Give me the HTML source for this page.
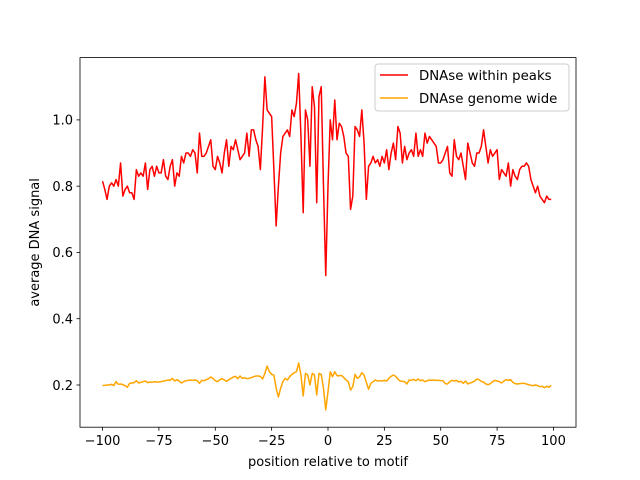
<!DOCTYPE html>
<html><head><meta charset="utf-8"><style>
body{margin:0;background:#fff}
svg{display:block;font-family:"DejaVu Sans","Liberation Sans",sans-serif}
</style></head><body>
<svg id="chart" width="640" height="480" viewBox="0 0 640 480" xmlns="http://www.w3.org/2000/svg">
<rect width="640" height="480" fill="#fff"/>
<g id="plot"></g>
<rect x="80" y="57.6" width="496" height="369.6" fill="none" stroke="#000" stroke-width="0.8"/>
<g id="xticks"></g>
<g id="yticks"></g>
<text x="328" y="466" font-size="13" text-anchor="middle">position relative to motif</text>
<text transform="translate(39,242.4) rotate(-90)" font-size="13" text-anchor="middle">average DNA signal</text>
<g>
<rect x="375" y="64" width="194" height="47" rx="3" fill="#fff" fill-opacity="0.8" stroke="#ccc" stroke-width="1"/>
<line x1="380" y1="75" x2="408" y2="75" stroke="red" stroke-width="1.5"/>
<text x="419" y="80" font-size="13.3">DNAse within peaks</text>
<line x1="380" y1="98" x2="408" y2="98" stroke="orange" stroke-width="1.5"/>
<text x="419" y="103" font-size="13.3">DNAse genome wide</text>
</g>
</svg>
<script>
const xStart = -100;
const peaks = [
0.815,0.79,0.76,0.80,0.81,0.80,0.82,0.80,0.87,0.77,
0.79,0.80,0.78,0.78,0.76,0.85,0.83,0.84,0.83,0.87,
0.79,0.85,0.86,0.83,0.86,0.84,0.84,0.88,0.83,0.82,
0.86,0.88,0.80,0.84,0.83,0.89,0.87,0.90,0.90,0.89,
0.91,0.90,0.84,0.96,0.89,0.89,0.90,0.92,0.94,0.86,
0.85,0.89,0.87,0.84,0.90,0.94,0.86,0.92,0.91,0.94,
0.91,0.88,0.89,0.90,0.96,0.89,0.97,0.97,0.94,0.92,
0.85,0.98,1.13,1.03,1.02,1.01,0.85,0.68,0.80,0.90,
0.95,0.96,0.97,0.95,1.03,1.01,1.05,1.14,0.95,0.72,
1.03,1.00,0.86,1.10,1.04,0.75,1.07,1.10,0.80,0.53,
0.80,1.00,0.94,1.06,0.94,0.99,0.98,0.95,0.90,0.89,
0.73,0.77,0.98,0.97,0.95,1.03,0.93,0.76,0.86,0.87,
0.89,0.87,0.88,0.86,0.89,0.87,0.91,0.85,0.90,0.93,
0.88,0.98,0.96,0.87,0.92,0.88,0.90,0.91,0.89,0.96,
0.89,0.91,0.89,0.96,0.93,0.95,0.94,0.93,0.92,0.87,
0.87,0.88,0.90,0.92,0.84,0.83,0.94,0.89,0.88,0.90,
0.86,0.82,0.93,0.90,0.87,0.86,0.90,0.90,0.92,0.97,
0.92,0.87,0.91,0.89,0.90,0.91,0.82,0.85,0.84,0.83,
0.87,0.80,0.85,0.83,0.82,0.85,0.86,0.86,0.87,0.86,
0.82,0.80,0.78,0.80,0.77,0.76,0.75,0.77,0.76,0.76];
const genome = [
0.198,0.199,0.200,0.200,0.202,0.198,0.210,0.202,0.203,0.201,
0.198,0.193,0.205,0.206,0.207,0.213,0.206,0.208,0.210,0.212,
0.207,0.209,0.208,0.210,0.209,0.209,0.210,0.212,0.213,0.215,
0.214,0.220,0.212,0.216,0.212,0.206,0.210,0.213,0.214,0.215,
0.214,0.215,0.213,0.205,0.214,0.213,0.216,0.219,0.224,0.220,
0.213,0.210,0.216,0.219,0.215,0.211,0.216,0.220,0.224,0.226,
0.219,0.227,0.220,0.222,0.219,0.220,0.222,0.225,0.227,0.227,
0.226,0.218,0.235,0.257,0.240,0.232,0.230,0.190,0.164,0.190,
0.210,0.220,0.215,0.225,0.232,0.237,0.240,0.266,0.230,0.167,
0.235,0.230,0.200,0.235,0.230,0.170,0.235,0.232,0.190,0.125,
0.180,0.240,0.225,0.240,0.228,0.228,0.229,0.222,0.215,0.210,
0.185,0.195,0.232,0.220,0.225,0.237,0.230,0.208,0.187,0.205,
0.210,0.215,0.212,0.213,0.212,0.214,0.212,0.220,0.226,0.230,
0.226,0.218,0.212,0.211,0.210,0.203,0.215,0.214,0.217,0.213,
0.218,0.213,0.215,0.210,0.213,0.215,0.214,0.215,0.214,0.214,
0.213,0.213,0.204,0.203,0.210,0.214,0.212,0.214,0.209,0.211,
0.205,0.212,0.203,0.206,0.208,0.212,0.218,0.216,0.211,0.209,
0.203,0.201,0.204,0.210,0.214,0.212,0.210,0.206,0.212,0.216,
0.214,0.216,0.208,0.204,0.203,0.204,0.205,0.205,0.203,0.201,
0.199,0.198,0.200,0.198,0.195,0.196,0.192,0.196,0.193,0.199];
const xTicks = [-100,-75,-50,-25,0,25,50,75,100];
const yTicks = [0.2,0.4,0.6,0.8,1.0];
const yTickLabels = ["0.2","0.4","0.6","0.8","1.0"];

const NS = "http://www.w3.org/2000/svg";
const L=80,R=576,T=57.6,B=427.2;
const xMin=-110,xMax=110,yMin=0.0726,yMax=1.188;
const sx = v => L + (v-xMin)/(xMax-xMin)*(R-L);
const sy = v => B - (v-yMin)/(yMax-yMin)*(B-T);
function mk(tag, attrs, parent){const e=document.createElementNS(NS,tag);for(const k in attrs)e.setAttribute(k,attrs[k]);parent.appendChild(e);return e;}

const plot=document.getElementById('plot');
function line(vals,color,name){
  const pts=vals.map((v,i)=>sx(xStart+i).toFixed(2)+","+sy(v).toFixed(2)).join(" ");
  const p=mk('polyline',{points:pts,fill:'none',stroke:color,'stroke-width':1.5,'stroke-linejoin':'round'},plot);
  
  
}
line(peaks,'red','series-within-peaks');
line(genome,'orange','series-genome-wide');

const xg=document.getElementById('xticks');
xTicks.forEach(t=>{
  const x=sx(t);
  const l=mk('line',{x1:x,x2:x,y1:B,y2:B+3.5,stroke:'#000','stroke-width':0.8},xg);
  
  
  const tx=mk('text',{x:x,y:B+18,'font-size':13,'text-anchor':'middle'},xg);
  tx.textContent=(t<0?"\u2212"+(-t):String(t));
  
  
});
const yg=document.getElementById('yticks');
yTicks.forEach((t,i)=>{
  const y=sy(t);
  const l=mk('line',{x1:L-3.5,x2:L,y1:y,y2:y,stroke:'#000','stroke-width':0.8},yg);
  
  
  const tx=mk('text',{x:L-7,y:y+4.8,'font-size':13,'text-anchor':'end'},yg);
  tx.textContent=yTickLabels[i];
  
  
});
</script>
</body></html>
